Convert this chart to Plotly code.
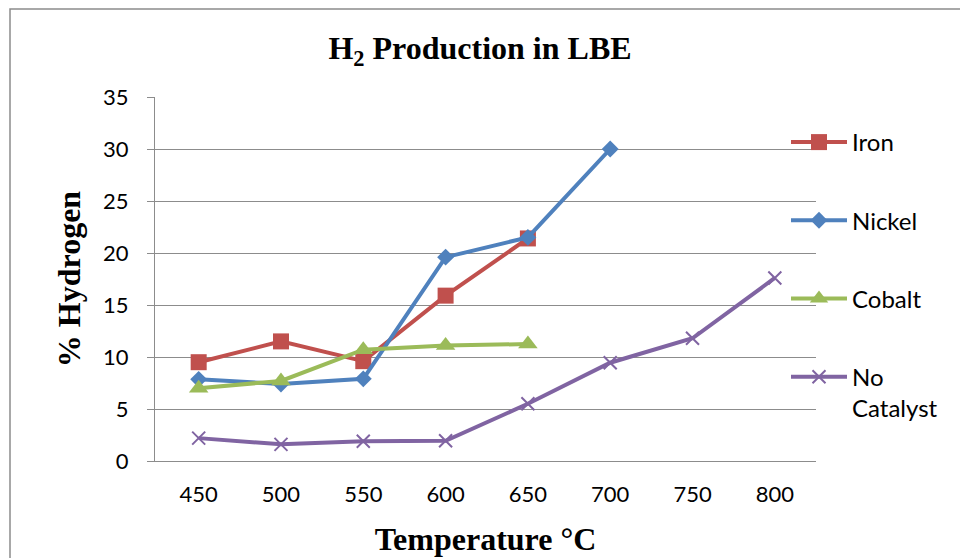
import plotly.graph_objects as go

temps = ["450", "500", "550", "600", "650", "700", "750", "800"]
iron = [9.5, 11.5, 9.6, 15.9, 21.4]
nickel = [7.85, 7.4, 7.9, 19.6, 21.5, 30.0]
cobalt = [7.0, 7.7, 10.7, 11.1, 11.25]
no_cat = [2.2, 1.6, 1.9, 1.95, 5.5, 9.45, 11.8, 17.6]

W, H = 960, 558
L, R, T, B = 155, 144, 97, 97
pw, ph = W - L - R, H - T - B

def px(x):
    return (x - L) / pw

def py(y):
    return (H - B - y) / ph

fig = go.Figure()
series = [
    ("Iron", iron, "#C0504D", dict(symbol="square", size=16)),
    ("Nickel", nickel, "#4F81BD", dict(symbol="diamond", size=13)),
    ("Cobalt", cobalt, "#9BBB59", dict(symbol="triangle-up", size=17)),
    ("No<br>Catalyst", no_cat, "#8064A2", dict(symbol="x-thin-open", size=13, line=dict(width=2, color="#8064A2"))),
]
for i, (name, vals, col, mk) in enumerate(series):
    fig.add_trace(go.Scatter(
        x=temps[:len(vals)], y=vals, name=name, mode="lines+markers",
        line=dict(color=col, width=4), marker=dict(color=col, **mk),
        legendgroup=str(i),
    ))

grid = "#8C8C8C"
fig.update_layout(
    width=W, height=H,
    margin=dict(l=L, r=R, t=T, b=B, autoexpand=False),
    paper_bgcolor="white", plot_bgcolor="white",
    title=dict(text="<b>H<sub>2</sub> Production in LBE</b>", x=0.5, xanchor="center",
               y=1 - 48 / H, yanchor="middle",
               font=dict(family="Liberation Serif", size=32, color="black")),
    xaxis=dict(type="category", showgrid=False, showline=True, linecolor=grid, linewidth=1,
               automargin=False,
               ticks="", tickfont=dict(family="Lato", size=22, color="black"),
               ticklabelstandoff=14,
               title=dict(text="<b>Temperature °C</b>", standoff=21,
                          font=dict(family="Liberation Serif", size=32, color="black"))),
    yaxis=dict(range=[0, 35], dtick=5, showgrid=True, gridcolor=grid, gridwidth=1,
               showline=True, linecolor=grid, linewidth=1, zeroline=False,
               automargin=False,
               ticks="outside", ticklen=7, tickcolor=grid,
               tickfont=dict(family="Lato", size=22, color="black"),
               ticklabelstandoff=14,
               title=dict(text="<b>% Hydrogen</b>", standoff=12,
                          font=dict(family="Liberation Serif", size=32, color="black"))),
    legend=dict(x=px(786), xanchor="left", y=py(120), yanchor="top",
                font=dict(family="Lato", size=24, color="black"),
                tracegroupgap=44, itemwidth=56, valign="top",
                bgcolor="rgba(0,0,0,0)"),
    showlegend=True,
    shapes=[dict(type="rect", xref="paper", yref="paper",
                 x0=px(10), x1=px(975), y0=py(575), y1=py(9),
                 line=dict(color="#8C8C8C", width=1.5), layer="below")],
)

fig.write_html("out.html")
